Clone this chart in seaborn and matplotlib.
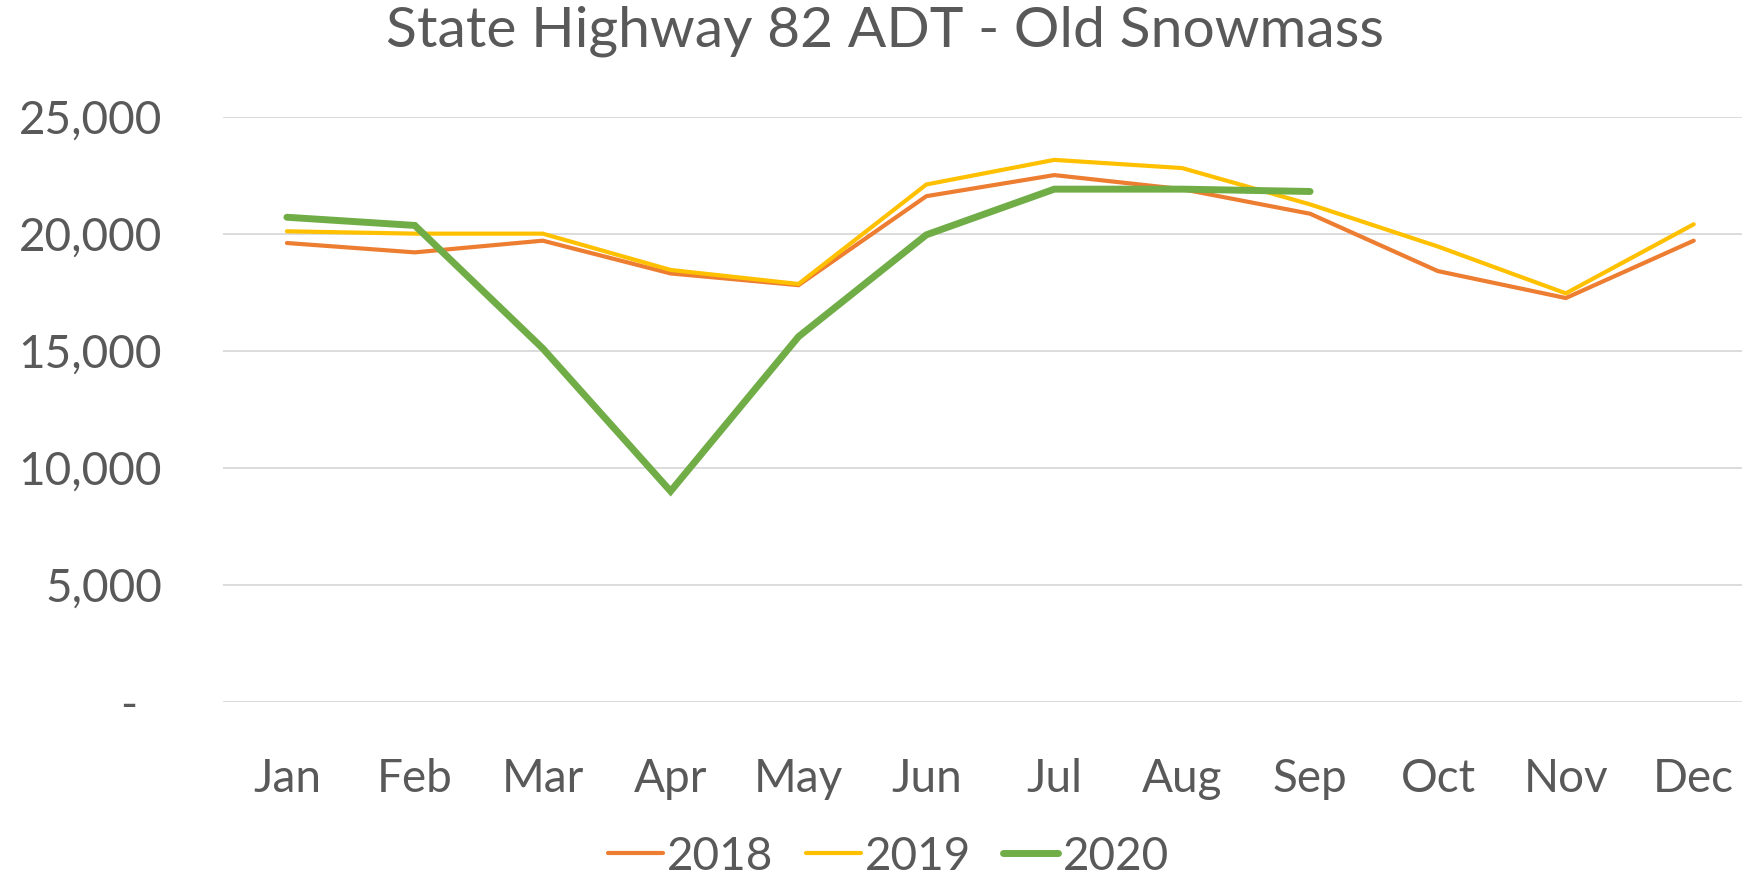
import numpy as np
import pandas as pd
import matplotlib
matplotlib.use('Agg')
import matplotlib.pyplot as plt
import seaborn as sns

# Data (monthly ADT)
months = ['Jan', 'Feb', 'Mar', 'Apr', 'May', 'Jun',
          'Jul', 'Aug', 'Sep', 'Oct', 'Nov', 'Dec']
adt_2018 = [19600, 19200, 19700, 18300, 17800, 21600,
            22500, 21900, 20850, 18400, 17250, 19700]
adt_2019 = [20100, 20000, 20000, 18450, 17850, 22100,
            23150, 22800, 21250, 19450, 17450, 20400]
adt_2020 = [20700, 20350, 15100, 9000, 15600, 19950,
            21900, 21900, 21800, np.nan, np.nan, np.nan]
years = ['2018', '2019', '2020']
y_ticks = [0, 5000, 10000, 15000, 20000, 25000]
y_labels = ['-  ', '5,000', '10,000', '15,000', '20,000', '25,000']

TEXT = '#595959'
colors = {'2018': '#ED7D31', '2019': '#FFC000', '2020': '#70AD47'}
widths = {'2018': 3.0, '2019': 3.0, '2020': 5.0}

df = pd.DataFrame({'month': months, '2018': adt_2018,
                   '2019': adt_2019, '2020': adt_2020})
df['pos'] = range(len(months))

sns.set_theme(style='white')
plt.rcParams['font.family'] = ['Lato', 'DejaVu Sans']

fig = plt.figure(figsize=(17.42, 8.83), dpi=100)
ax = fig.add_axes([0.128, 0.205, 0.881, 0.663])

for yr in years:
    sns.lineplot(data=df, x='pos', y=yr, ax=ax, color=colors[yr],
                 linewidth=widths[yr], label=yr, sort=False,
                 solid_capstyle='round', solid_joinstyle='miter')

ax.set_xlim(-0.5, 11.5)
ax.set_ylim(0, 25000)
ax.set_xticks(df['pos'])
ax.set_xticklabels(months)
ax.set_yticks(y_ticks)
ax.set_yticklabels(y_labels)
ax.set_xlabel('')
ax.set_ylabel('')
ax.grid(axis='y', color='#D9D9D9', linewidth=1.3)
ax.set_axisbelow(True)
for s in ax.spines.values():
    s.set_visible(False)
ax.tick_params(axis='both', length=0, labelsize=33, colors=TEXT)
ax.tick_params(axis='y', pad=44)
ax.tick_params(axis='x', pad=40)

ax.get_legend().remove()
handles, labels = ax.get_legend_handles_labels()
leg = fig.legend(handles, labels, loc='center', bbox_to_anchor=(0.51, 0.03),
                 ncol=3, frameon=False, fontsize=33, handlelength=1.2,
                 handletextpad=0.1, columnspacing=0.7)
for t in leg.get_texts():
    t.set_color(TEXT)

fig.text(0.508, 0.965, 'State Highway 82 ADT - Old Snowmass', ha='center',
         va='center', fontsize=41, color=TEXT)

fig.savefig('out.png', dpi=100)
